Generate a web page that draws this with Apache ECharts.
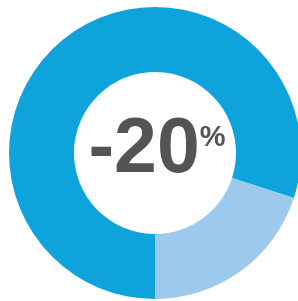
<!DOCTYPE html>
<html>
<head>
<meta charset="utf-8">
<script src="https://cdn.jsdelivr.net/npm/echarts@6/dist/echarts.min.js"></script>
<style>
  html, body { margin: 0; padding: 0; background: #fff; }
  #chart { width: 298px; height: 301px; }
</style>
</head>
<body>
<div id="chart"></div>
<script>
// segments, drawn clockwise from 6 o'clock
const names = ['rest', 'change']
const values = [80, 20]
const colors = ['#0fa3dc', '#9dc9ec']
const centerValue = '-20'
const centerUnit = '%'

const chart = echarts.init(document.getElementById('chart'))

chart.setOption({
  backgroundColor: '#fff',
  animation: false,
  title: {
    text: '{a|' + centerValue + '}{b|' + centerUnit + '}',
    left: 157,
    top: 151,
    textAlign: 'center',
    textVerticalAlign: 'middle',
    padding: 0,
    textStyle: {
      rich: {
        a: {
          fontFamily: 'Liberation Sans',
          fontSize: 77,
          fontWeight: 'bold',
          color: '#545457',
          lineHeight: 76
        },
        b: {
          fontFamily: 'Liberation Sans',
          fontSize: 29,
          color: '#545457',
          verticalAlign: 'top',
          lineHeight: 30,
          padding: [10, 0, 0, 0]
        }
      }
    }
  },
  series: [{
    type: 'pie',
    silent: true,
    center: [155, 153],
    radius: [81, 146],
    startAngle: 270,
    clockwise: true,
    label: { show: false },
    labelLine: { show: false },
    data: names.map((n, i) => ({
      name: n,
      value: values[i],
      itemStyle: { color: colors[i] }
    }))
  }]
})
</script>
</body>
</html>
